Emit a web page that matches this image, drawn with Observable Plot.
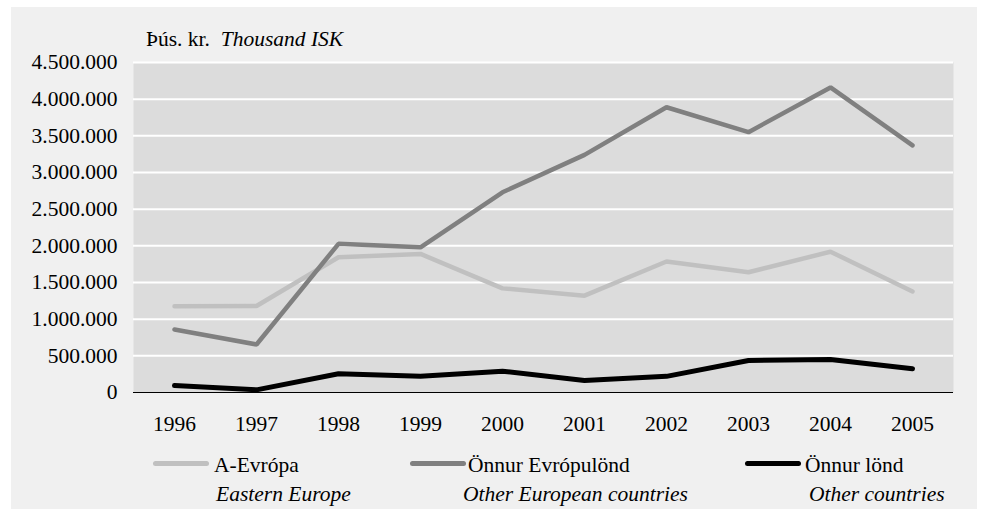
<!DOCTYPE html>
<html>
<head>
<meta charset="utf-8">
<script src="https://cdn.jsdelivr.net/npm/d3@7"></script>
<script src="https://cdn.jsdelivr.net/npm/@observablehq/plot@0.6"></script>
<style>
  html, body { margin: 0; padding: 0; background: #ffffff; }
  #wrap { position: relative; width: 984px; height: 509px; overflow: hidden; font-size: 21.5px; color: #000;
          font-family: 'Liberation Serif', 'Times New Roman', serif; }
  #bg { position: absolute; left: 11px; top: 7px; width: 966px; height: 502px; background: #f0f0f0; }
  #chart { position: absolute; left: 0; top: 0; }
  .t { position: absolute; line-height: 21.5px; white-space: nowrap; font-size: 21.5px; }
  .i { font-style: italic; }
  .sw { position: absolute; height: 5px; border-radius: 2.5px; }
</style>
</head>
<body>
<div id="wrap">
  <div id="bg"></div>
  <div id="chart"></div>
  <div class="t" style="left:146px; top:29px;">Þús. kr.&nbsp; <span class="i">Thousand ISK</span></div>
  <div id="legend"></div>
</div>
<script>
const years = [1996, 1997, 1998, 1999, 2000, 2001, 2002, 2003, 2004, 2005];
const aEvropa = [1177000, 1180000, 1845000, 1890000, 1420000, 1320000, 1786000, 1640000, 1920000, 1377000];
const onnurEvropulond = [860000, 655000, 2027000, 1980000, 2730000, 3240000, 3890000, 3550000, 4160000, 3370000];
const onnurLond = [95000, 36000, 255000, 220000, 290000, 164000, 220000, 436000, 450000, 323000];
const yTicks = [0, 500000, 1000000, 1500000, 2000000, 2500000, 3000000, 3500000, 4000000, 4500000];

const seriesNames = ["A-Evrópa", "Önnur Evrópulönd", "Önnur lönd"];
const seriesEnglish = ["Eastern Europe", "Other European countries", "Other countries"];
const seriesColors = ["#c0c0c0", "#808080", "#000000"];
const seriesWidths = [4.5, 4.5, 5];
const seriesValues = [aEvropa, onnurEvropulond, onnurLond];

const rows = [];
seriesNames.forEach((name, s) => {
  years.forEach((yr, i) => rows.push({series: name, year: String(yr), value: seriesValues[s][i]}));
});

const fmt = v => d3.format(",")(v).replace(/,/g, ".");
const FONT = "'Liberation Serif', 'Times New Roman', serif";

const chart = Plot.plot({
  width: 984,
  height: 440,
  marginLeft: 133,
  marginRight: 31,
  marginTop: 62,
  marginBottom: 48,
  style: {background: "transparent", fontFamily: FONT, fontSize: "21.5px", color: "#000", overflow: "visible"},
  x: {type: "point", domain: years.map(String), padding: 0.5},
  y: {domain: [0, 4500000]},
  color: {domain: seriesNames, range: seriesColors},
  marks: [
    Plot.frame({fill: "#dcdcdc", stroke: null}),
    Plot.ruleY(yTicks.filter(d => d > 0), {stroke: "#ffffff", strokeWidth: 2}),
    Plot.ruleY([0], {stroke: "#000000", strokeWidth: 1}),
    Plot.axisY({ticks: yTicks, tickFormat: fmt, tickSize: 0, tickPadding: 16, label: null, fontSize: 21.5}),
    Plot.axisX({tickSize: 0, tickPadding: 23, label: null, fontSize: 21.5}),
    ...seriesNames.map((name, s) =>
      Plot.lineY(rows.filter(r => r.series === name), {
        x: "year", y: "value", stroke: seriesColors[s], strokeWidth: seriesWidths[s],
        strokeLinecap: "round", strokeLinejoin: "miter"
      }))
  ]
});
document.getElementById("chart").appendChild(chart);

// legend (HTML)
const legend = d3.select("#legend");
const swLeft = [153, 410, 745];
const txtLeft = [214, 468, 805];
const engLeft = [216, 463, 809];
seriesNames.forEach((name, i) => {
  legend.append("div").attr("class", "sw")
    .style("left", swLeft[i] + "px").style("top", "461px").style("width", "56px")
    .style("background", seriesColors[i]);
  legend.append("div").attr("class", "t")
    .style("left", txtLeft[i] + "px").style("top", "455px").text(name);
  legend.append("div").attr("class", "t i")
    .style("left", engLeft[i] + "px").style("top", "484px").text(seriesEnglish[i]);
});
</script>
</body>
</html>
